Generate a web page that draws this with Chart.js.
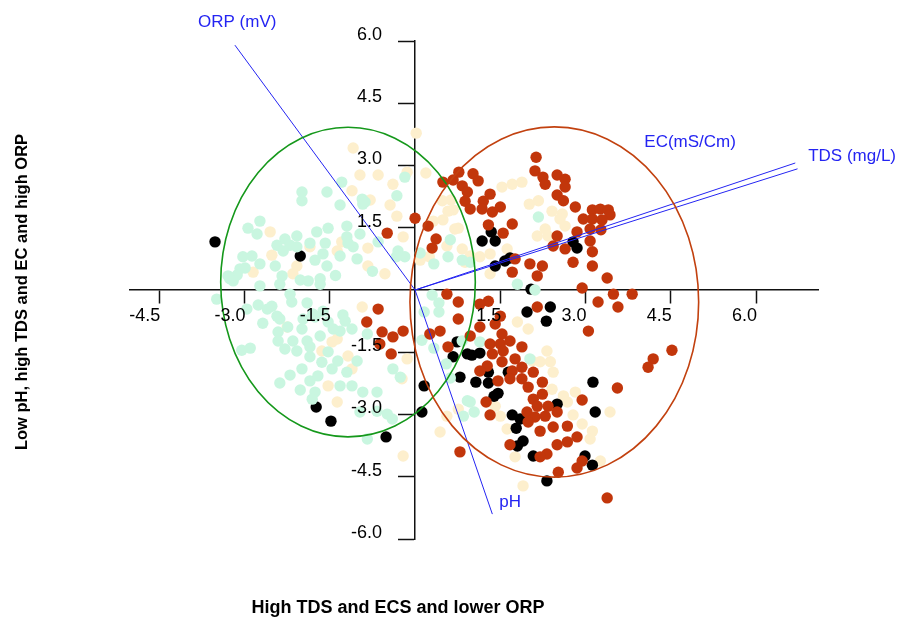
<!DOCTYPE html>
<html>
<head>
<meta charset="utf-8">
<title>PCA biplot</title>
<script src="https://cdn.jsdelivr.net/npm/chart.js@4.4.1/dist/chart.umd.min.js"></script>
<style>
  html, body { margin: 0; padding: 0; background: #fff; }
  #wrap { width: 912px; height: 620px; position: relative; }
</style>
</head>
<body>
<div id="wrap"><canvas id="biplot"></canvas></div>
<script>
// tick values shown on the two crossing axes
const xTicks = [-4.5, -3.0, -1.5, 1.5, 3.0, 4.5, 6.0];
const yTicks = [-6.0, -4.5, -3.0, -1.5, 1.5, 3.0, 4.5, 6.0];

const xTitle = 'High TDS and ECS and lower ORP';
const yTitle = 'Low pH, high TDS and EC and high ORP';

// loading vectors (end points) and their labels
const vectorNames = ['ORP (mV)', 'pH', 'EC(mS/Cm)', 'TDS (mg/L)'];
const vectorEnds = [[-3.17, 5.90], [1.36, -5.40], [6.73, 2.92], [6.69, 3.06]];
const vectorLabelPos = [[-3.13, 6.44], [1.48, -5.11], [4.84, 3.57], [7.69, 3.23]];

// group ellipses: centre and semi axes
const ellipseCenters = [[-1.18, 0.19], [2.45, -0.29]];
const ellipseRadii = [[2.24, 3.73], [2.54, 4.22]];

// sample scores, one list per group
const mintPts = [
  [-1.29,2.60],[-1.99,2.36],[-1.55,2.36],[-1.99,2.15],[-1.32,2.05],[-0.92,2.07],[-2.73,1.66],[-2.94,1.49],
  [-2.78,1.35],[-1.53,1.49],[-1.73,1.40],[-2.08,1.30],[-2.29,1.23],[-1.20,1.54],[-0.97,1.35],[-1.18,1.13],
  [-2.43,1.08],[-2.20,1.08],[-2.32,0.94],[-2.08,1.04],[-1.85,1.13],[-1.58,1.13],[-1.62,0.87],[-1.76,0.72],
  [-1.55,0.58],[-1.32,0.82],[-1.09,1.04],[-1.02,0.75],[-3.03,0.80],[-2.87,0.82],[-3.08,0.51],[-3.13,0.36],
  [-3.29,0.34],[-2.73,0.63],[-2.46,0.58],[-2.34,0.34],[-2.02,0.24],[-1.88,0.22],[-1.67,0.27],[-2.73,0.10],
  [-3.49,-0.22],[-2.96,-0.46],[-2.60,-0.46],[-2.17,-0.29],[-0.30,0.94],[-0.32,2.27],[-0.18,2.72],[-0.93,2.19],
  [-1.20,1.28],[-0.65,1.16],[-2.76,-0.36],[-2.52,-0.39],[-1.90,-0.31],[-2.68,-0.80],[-2.38,-0.70],[-2.24,-0.89],
  [-1.97,-0.70],[-1.76,-0.65],[-1.53,-0.77],[-1.27,-0.60],[-1.11,-0.94],[-0.84,-1.06],[-1.32,-0.99],[-2.41,-1.01],
  [-2.41,-1.23],[-2.15,-1.23],[-1.90,-1.23],[-1.67,-1.11],[-1.85,-1.37],[-2.08,-1.47],[-2.29,-1.42],[-3.05,-1.45],
  [-2.90,-1.40],[-1.53,-1.49],[-1.36,-1.71],[-1.02,-1.71],[-1.85,-1.61],[-1.64,-1.74],[-1.46,-1.90],[-1.20,-1.98],
  [-1.99,-1.90],[-2.20,-2.05],[-1.71,-2.07],[-1.85,-2.19],[-2.38,-2.24],[-1.32,-2.31],[-1.11,-2.31],[-2.02,-2.41],
  [-1.76,-2.46],[-1.81,-2.63],[-0.92,-2.46],[-0.67,-2.46],[-0.97,-2.94],[-0.67,-2.92],[-0.49,-2.99],[-0.40,-3.11],
  [-0.84,-3.59],[-0.39,-1.90],[-0.26,-2.10],[-1.23,-0.75],[0.30,-0.12],[0.42,-0.31],[0.16,-0.53],[0.42,-0.53],
  [0.12,-1.21],[0.33,-1.40],[0.55,-1.78],[0.62,-2.12],[0.97,-2.70],[1.04,-2.94],[0.85,-3.04],[0.09,0.89],
  [0.33,0.63],[0.58,0.80],[0.83,0.72],[0.97,0.67],[0.62,1.21],[-0.18,0.80],[-0.33,0.80],[2.17,1.76],
  [1.80,0.14],[2.02,-1.66],[0.92,-2.67],[0.83,-1.23],[1.14,-1.25],[2.11,0.00],[-0.88,2.12],[-3.26,0.27],
  [-2.99,0.53],[-3.20,0.22],[-2.20,-0.10],[-2.38,0.14],[-1.80,-0.58],[-1.62,-0.51],[-1.67,0.14],[-1.99,-0.94],
  [-1.44,-0.94],[-2.43,-0.63],[-1.40,0.35],[-0.75,0.45]
];

const creamPts = [
  [0.02,3.78],[-1.09,3.42],[-0.97,2.77],[-0.65,2.77],[-1.11,2.39],[-0.79,2.17],[-0.39,2.55],[-0.14,2.84],
  [-0.32,1.78],[-0.21,1.28],[-2.55,1.40],[-1.85,1.04],[-1.29,1.16],[-0.83,1.01],[-1.37,0.94],[-2.52,0.84],
  [-2.08,0.58],[-2.15,0.39],[-2.85,0.43],[-0.83,0.58],[-0.53,0.39],[-0.93,-0.41],[-2.25,-0.89],[-1.46,-1.25],
  [-1.37,-1.18],[-1.64,-1.47],[-1.18,-1.59],[-1.11,-1.90],[-1.53,-2.31],[-1.37,-2.70],[-0.14,-1.66],[-0.23,-2.14],
  [-0.21,-4.00],[0.19,2.82],[-0.44,2.05],[0.63,2.17],[0.67,1.93],[0.49,1.69],[0.76,1.49],[0.25,0.80],
  [0.48,2.15],[0.58,1.90],[0.32,1.66],[0.70,1.47],[0.56,1.06],[0.83,0.99],[1.53,2.48],[1.71,2.55],
  [1.88,2.60],[2.01,2.07],[2.17,2.15],[2.41,1.90],[2.59,1.83],[2.55,1.71],[2.29,1.47],[2.15,1.30],
  [2.34,1.30],[2.64,1.54],[1.62,0.99],[1.32,0.87],[1.14,0.80],[1.32,0.39],[0.88,0.67],[0.97,0.82],
  [1.80,-0.77],[1.99,-0.94],[2.32,-1.47],[2.20,-1.73],[2.38,-1.73],[2.43,-1.98],[2.41,-2.39],[2.61,-2.55],
  [2.82,-2.46],[2.68,-2.70],[2.78,-3.01],[2.94,-3.23],[3.12,-3.40],[3.26,-4.12],[3.43,-2.94],[1.76,-4.02],
  [1.90,-4.72],[1.62,-3.35],[1.41,-2.80],[1.50,-3.04],[0.76,-2.87],[0.56,-3.04],[0.44,-3.42],[2.06,-1.71],
  [3.08,-3.59],[0.09,0.72]
];

const redPts = [
  [0.00,1.73],[-0.49,1.37],[0.49,2.60],[0.67,2.65],[0.77,2.84],[0.83,2.51],[0.92,2.36],[1.02,2.80],
  [1.11,2.63],[0.88,2.14],[0.97,1.95],[1.20,2.14],[1.32,2.31],[1.18,1.95],[1.36,1.88],[1.50,2.00],
  [1.71,1.59],[1.55,1.37],[1.29,1.57],[0.23,1.54],[0.37,1.23],[0.30,1.01],[1.71,0.43],[2.02,0.63],
  [2.24,0.58],[2.15,0.34],[1.76,0.75],[0.56,-0.10],[0.76,-0.29],[1.29,-0.27],[2.94,0.05],[3.22,-0.29],
  [3.49,-0.10],[3.57,-0.41],[1.14,-0.34],[3.82,-0.10],[2.15,-0.41],[2.13,3.20],[2.11,2.87],[2.25,2.72],
  [2.29,2.55],[2.50,2.77],[2.64,2.67],[2.64,2.48],[2.50,2.29],[2.61,2.15],[2.82,2.00],[3.12,1.93],
  [3.26,1.95],[3.40,1.93],[3.43,1.81],[3.12,1.71],[3.29,1.69],[2.96,1.71],[2.85,1.40],[3.08,1.47],
  [3.08,1.18],[3.12,0.92],[3.12,0.58],[3.38,0.29],[3.27,1.45],[2.78,0.67],[2.64,0.99],[2.50,1.30],
  [2.43,1.06],[-0.65,-0.46],[-0.85,-0.77],[-0.58,-1.01],[-0.39,-1.13],[-0.21,-0.99],[-0.62,-1.30],[-0.42,-1.54],
  [0.79,-3.90],[0.76,-0.70],[1.14,-0.89],[1.53,-1.06],[1.41,-0.82],[1.50,-0.63],[3.05,-0.99],[0.44,-0.99],
  [0.26,-1.06],[0.58,-1.37],[0.97,-1.11],[1.32,-1.30],[1.50,-1.30],[1.67,-1.23],[1.88,-1.37],[1.55,-1.47],
  [1.76,-1.66],[1.36,-1.54],[1.53,-1.73],[1.27,-1.83],[1.14,-1.95],[1.71,-1.95],[1.88,-1.86],[2.08,-1.98],
  [1.67,-2.14],[1.88,-2.14],[1.46,-2.19],[2.24,-2.22],[1.99,-2.34],[2.24,-2.51],[2.08,-2.63],[2.15,-2.80],
  [2.34,-2.80],[2.50,-2.94],[1.97,-2.94],[2.11,-3.06],[2.29,-3.04],[1.99,-3.18],[2.43,-3.30],[2.68,-3.28],
  [2.20,-3.40],[2.50,-3.73],[2.68,-3.66],[2.85,-3.54],[2.94,-2.65],[3.56,-2.36],[2.32,-3.95],[2.20,-4.02],
  [1.67,-3.73],[2.94,-4.12],[2.85,-4.29],[2.52,-4.39],[3.38,-5.01],[1.25,-2.70],[1.32,-3.01],[4.52,-1.45],
  [4.19,-1.66],[4.10,-1.86]
];

const blackPts = [
  [-3.52,1.16],[-2.02,0.82],[-1.74,-2.82],[-1.48,-3.16],[-0.51,-3.54],[0.12,-2.94],[0.16,-2.31],[1.34,1.40],
  [1.18,1.18],[1.41,1.18],[1.41,0.58],[1.58,0.70],[1.67,0.77],[2.78,1.16],[2.85,1.01],[2.04,0.02],
  [2.38,-0.41],[1.97,-0.53],[2.31,-0.75],[0.74,-1.25],[0.67,-1.61],[0.92,-1.54],[1.00,-1.57],[1.14,-1.52],
  [0.79,-2.10],[1.07,-2.22],[1.29,-2.24],[1.29,-1.98],[1.64,-1.98],[1.46,-2.49],[1.39,-2.56],[1.71,-3.01],
  [1.85,-3.11],[1.78,-3.33],[1.90,-3.64],[1.80,-3.76],[2.08,-4.00],[2.50,-2.75],[3.13,-2.22],[3.17,-2.94],
  [2.99,-4.00],[3.12,-4.22],[2.32,-4.60]
];

const toXY = pts => pts.map(p => ({ x: p[0], y: p[1] }));

const BLUE = '#2424f2';

function dotSet(pts, color) {
  return {
    data: toXY(pts),
    backgroundColor: color,
    pointRadius: 5.7,
    pointBorderWidth: 0,
    pointHoverRadius: 5.7
  };
}

// vector lines from the origin
const vectorSets = vectorEnds.map(e => ({
  data: [{ x: 0, y: 0 }, { x: e[0], y: e[1] }],
  showLine: true,
  borderColor: BLUE,
  borderWidth: 1,
  pointRadius: 0,
  pointHoverRadius: 0,
  clip: false
}));

/**
 * ellipses, tick labels, vector labels and axis titles
 */
const biplotOverlay = {
  id: 'biplotOverlay',
  afterDatasetsDraw(chart) {
    const ctx = chart.ctx;
    const xs = chart.scales.x;
    const ys = chart.scales.y;
    const ax = xs.getPixelForValue(0);
    const ay = ys.getPixelForValue(0);
    const ellipseColors = ['#15981b', '#c2410f'];

    ctx.save();
    ellipseCenters.forEach((c, i) => {
      const cx = xs.getPixelForValue(c[0]);
      const cy = ys.getPixelForValue(c[1]);
      const rx = Math.abs(xs.getPixelForValue(c[0] + ellipseRadii[i][0]) - cx);
      const ry = Math.abs(ys.getPixelForValue(c[1] + ellipseRadii[i][1]) - cy);
      ctx.beginPath();
      ctx.ellipse(cx, cy, rx, ry, 0, 0, Math.PI * 2);
      ctx.strokeStyle = ellipseColors[i];
      ctx.lineWidth = 1.6;
      ctx.stroke();
    });

    // tick labels
    ctx.fillStyle = '#000';
    ctx.font = '18px "Liberation Sans", Arial, sans-serif';
    ctx.textAlign = 'right';
    ctx.textBaseline = 'middle';
    xTicks.forEach(v => {
      ctx.fillText(v.toFixed(1), xs.getPixelForValue(v) + 1, ay + 26);
    });
    yTicks.forEach(v => {
      ctx.fillText(v.toFixed(1), ax - 33, ys.getPixelForValue(v) - 6);
    });

    // vector labels
    ctx.fillStyle = BLUE;
    ctx.font = '17px "Liberation Sans", Arial, sans-serif';
    vectorNames.forEach((name, i) => {
      const p = vectorLabelPos[i];
      ctx.textAlign = name === 'pH' ? 'left' : 'center';
      ctx.fillText(name, xs.getPixelForValue(p[0]), ys.getPixelForValue(p[1]));
    });

    // axis titles
    ctx.fillStyle = '#000';
    ctx.textAlign = 'center';
    ctx.font = 'bold 18px "Liberation Sans", Arial, sans-serif';
    ctx.fillText(xTitle, 398, 608);
    ctx.font = 'bold 16.5px "Liberation Sans", Arial, sans-serif';
    ctx.translate(22, 292);
    ctx.rotate(-Math.PI / 2);
    ctx.fillText(yTitle, 0, 0);
    ctx.restore();
  }
};

const axisCommon = {
  type: 'linear',
  grid: {
    display: true,
    drawOnChartArea: false,
    drawTicks: true,
    tickColor: '#111',
    tickWidth: 1.5
  },
  border: { display: true, color: '#111', width: 1.5 },
  ticks: { display: false }
};

new Chart(document.getElementById('biplot'), {
  type: 'scatter',
  data: {
    datasets: [
      ...vectorSets,
      dotSet(redPts, '#c2360b'),
      dotSet(mintPts, '#c9f6e0'),
      dotSet(blackPts, '#000000'),
      dotSet(creamPts, '#fdefcd')
    ]
  },
  options: {
    responsive: true,
    maintainAspectRatio: false,
    animation: false,
    layout: { padding: { left: 130, right: 94, top: 41, bottom: 81 } },
    plugins: { legend: { display: false }, tooltip: { enabled: false } },
    scales: {
      x: {
        ...axisCommon,
        min: -5.016,
        max: 7.09,
        position: { y: 0 },
        grid: { ...axisCommon.grid, tickLength: 13 },
        afterBuildTicks: s => { s.ticks = xTicks.map(v => ({ value: v })); }
      },
      y: {
        ...axisCommon,
        min: -6,
        max: 6,
        position: { x: 0 },
        grid: { ...axisCommon.grid, tickLength: 16 },
        afterBuildTicks: s => { s.ticks = yTicks.map(v => ({ value: v })); }
      }
    }
  },
  plugins: [biplotOverlay]
});
</script>
</body>
</html>
